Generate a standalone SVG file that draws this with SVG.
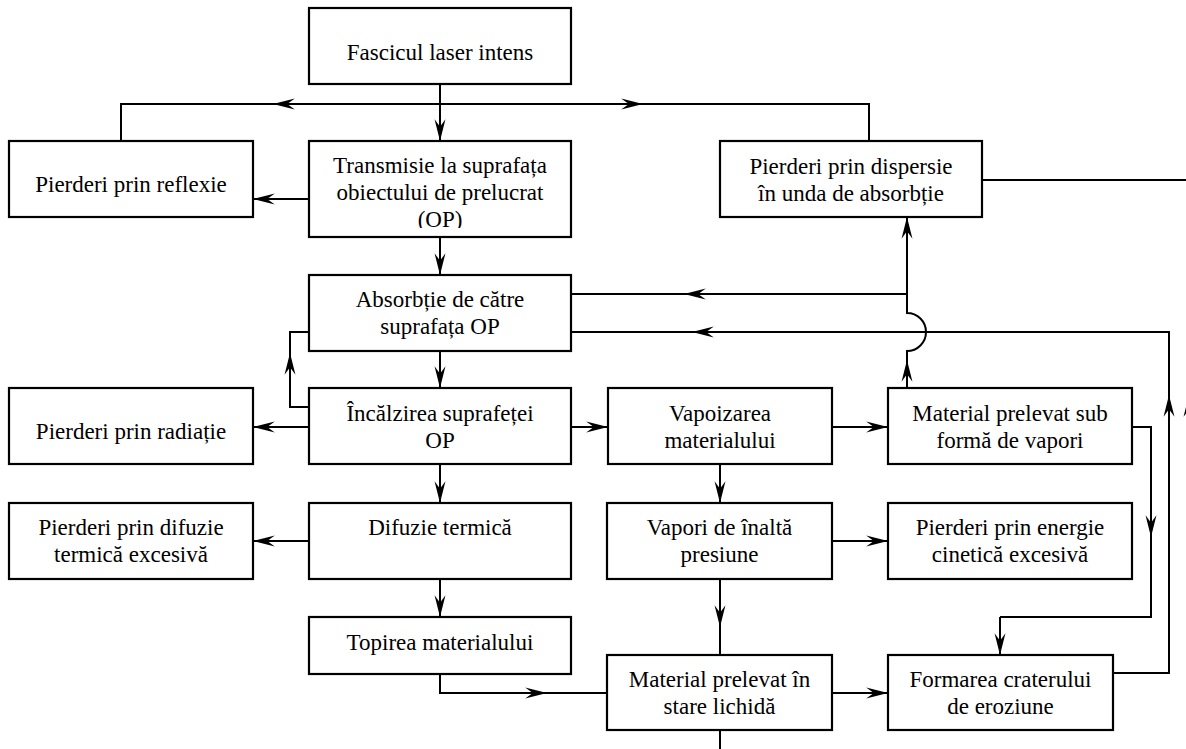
<svg xmlns="http://www.w3.org/2000/svg" width="1186" height="749" viewBox="0 0 1186 749">
<style>
.box rect{fill:#fff;stroke:#000;stroke-width:2.2}
text{font-family:"Liberation Serif","Times New Roman",serif;font-size:23px;fill:#000;text-anchor:middle}
.c path{fill:none;stroke:#000;stroke-width:2}
.c .a{marker-end:url(#ah)}
</style>
<defs>
<marker id="ah" markerUnits="userSpaceOnUse" markerWidth="24" markerHeight="14" viewBox="-21 -6 22 12" refX="0" refY="0" orient="auto">
<path d="M0,0 L-20,-5 L-13,0 L-20,5 Z" fill="#000" stroke="none"/>
</marker>
<clipPath id="clipT"><rect x="309" y="141" width="262" height="87"/></clipPath>
</defs>
<rect width="1186" height="749" fill="#fff"/>

<g id="connectors" class="c">
<!-- Fascicul to Transmisie and branches -->
<path class="a" d="M440,84 L440,141"/>
<path d="M121,141 L121,104 L869,104 L869,141"/>
<path class="a" d="M300,104 L273,104"/>
<path class="a" d="M610,104 L643,104"/>
<!-- Transmisie -> reflexie -->
<path class="a" d="M309,199 L253,199"/>
<!-- Transmisie -> Absorbtie -->
<path class="a" d="M440,237 L440,275"/>
<!-- Absorbtie -> Incalzirea -->
<path class="a" d="M440,351 L440,388"/>
<!-- Incalzirea loop back to Absorbtie -->
<path d="M309,407 L290,407 L290,332 L309,332"/>
<path class="a" d="M290,380 L290,353"/>
<!-- Incalzirea -> radiatie -->
<path class="a" d="M309,427 L253,427"/>
<!-- Incalzirea -> Vapoizarea -->
<path class="a" d="M571,427 L608,427"/>
<!-- Vapoizarea -> Material vapori -->
<path class="a" d="M832,427 L888,427"/>
<!-- Incalzirea -> Difuzie -->
<path class="a" d="M440,464 L440,503"/>
<!-- Difuzie -> Pierderi difuzie -->
<path class="a" d="M309,541 L253,541"/>
<!-- Difuzie -> Topirea -->
<path class="a" d="M440,579 L440,617"/>
<!-- Topirea -> lichid -->
<path d="M440,674 L440,693 L607,693"/>
<path class="a" d="M520,693 L547,693"/>
<!-- Vapoizarea -> Vapori inalta -->
<path class="a" d="M720,464 L720,503"/>
<!-- Vapori -> energie -->
<path class="a" d="M832,541 L888,541"/>
<!-- Vapori -> lichid -->
<path d="M720,579 L720,655"/>
<path class="a" d="M720,600 L720,627"/>
<!-- lichid -> Formarea -->
<path class="a" d="M832,693 L888,693"/>
<!-- lichid bottom -->
<path d="M720,730 L720,752"/>
<!-- Material vapori -> Formarea -->
<path d="M1132,427 L1151,427 L1151,617 L1000,617"/>
<path class="a" d="M1151,510 L1151,537"/>
<path class="a" d="M1000,617 L1000,655"/>
<!-- Formarea -> Absorbtie -->
<path d="M1113,673 L1169,673 L1169,332 L571,332"/>
<path class="a" d="M1169,420 L1169,395"/>
<path class="a" d="M720,332 L692,332"/>
<!-- Material vapori -> dispersie / Absorbtie -->
<path d="M907,388 L907,351 A19,19 0 0 0 907,313 L907,240"/>
<path class="a" d="M907,380 L907,360"/>
<path class="a" d="M907,245 L907,217"/>
<path d="M907,294 L571,294"/>
<path class="a" d="M710,294 L684,294"/>
<!-- dispersie right -->
<path d="M982,180 L1189,180 L1189,752"/>
<path class="a" d="M1189,420 L1189,395"/>
</g>

<g id="n1" class="box"><rect x="309" y="8" width="262" height="76"/><text x="440" y="60">Fascicul laser intens</text></g>
<g id="n2" class="box"><rect x="9" y="141" width="244" height="76"/><text x="131" y="192">Pierderi prin reflexie</text></g>
<g id="n3" class="box"><rect x="309" y="141" width="262" height="96"/><g clip-path="url(#clipT)"><text x="440" y="173">Transmisie la suprafața</text><text x="440" y="200">obiectului de prelucrat</text><text x="440" y="227">(OP)</text></g></g>
<g id="n4" class="box"><rect x="720" y="141" width="262" height="76"/><text x="851" y="174">Pierderi prin dispersie</text><text x="851" y="201">în unda de absorbție</text></g>
<g id="n5" class="box"><rect x="309" y="275" width="262" height="76"/><text x="440" y="307">Absorbție de către</text><text x="440" y="334">suprafața OP</text></g>
<g id="n6" class="box"><rect x="9" y="388" width="244" height="76"/><text x="131" y="439">Pierderi prin radiație</text></g>
<g id="n7" class="box"><rect x="309" y="388" width="262" height="76"/><text x="440" y="421">Încălzirea suprafeței</text><text x="440" y="448">OP</text></g>
<g id="n8" class="box"><rect x="608" y="388" width="224" height="76"/><text x="720" y="421">Vapoizarea</text><text x="720" y="448">materialului</text></g>
<g id="n9" class="box"><rect x="888" y="388" width="244" height="76"/><text x="1010" y="421">Material prelevat sub</text><text x="1010" y="448">formă de vapori</text></g>
<g id="n10" class="box"><rect x="9" y="503" width="244" height="76"/><text x="131" y="535">Pierderi prin difuzie</text><text x="131" y="562">termică excesivă</text></g>
<g id="n11" class="box"><rect x="309" y="503" width="262" height="76"/><text x="440" y="535">Difuzie termică</text></g>
<g id="n12" class="box"><rect x="607" y="503" width="225" height="76"/><text x="719.5" y="535">Vapori de înaltă</text><text x="719.5" y="562">presiune</text></g>
<g id="n13" class="box"><rect x="888" y="503" width="244" height="76"/><text x="1010" y="535">Pierderi prin energie</text><text x="1010" y="562">cinetică excesivă</text></g>
<g id="n14" class="box"><rect x="309" y="617" width="262" height="57"/><text x="440" y="650">Topirea materialului</text></g>
<g id="n15" class="box"><rect x="607" y="655" width="225" height="75"/><text x="719.5" y="687">Material prelevat în</text><text x="719.5" y="714">stare lichidă</text></g>
<g id="n16" class="box"><rect x="888" y="655" width="225" height="75"/><text x="1000.5" y="687">Formarea craterului</text><text x="1000.5" y="714">de eroziune</text></g>
</svg>
